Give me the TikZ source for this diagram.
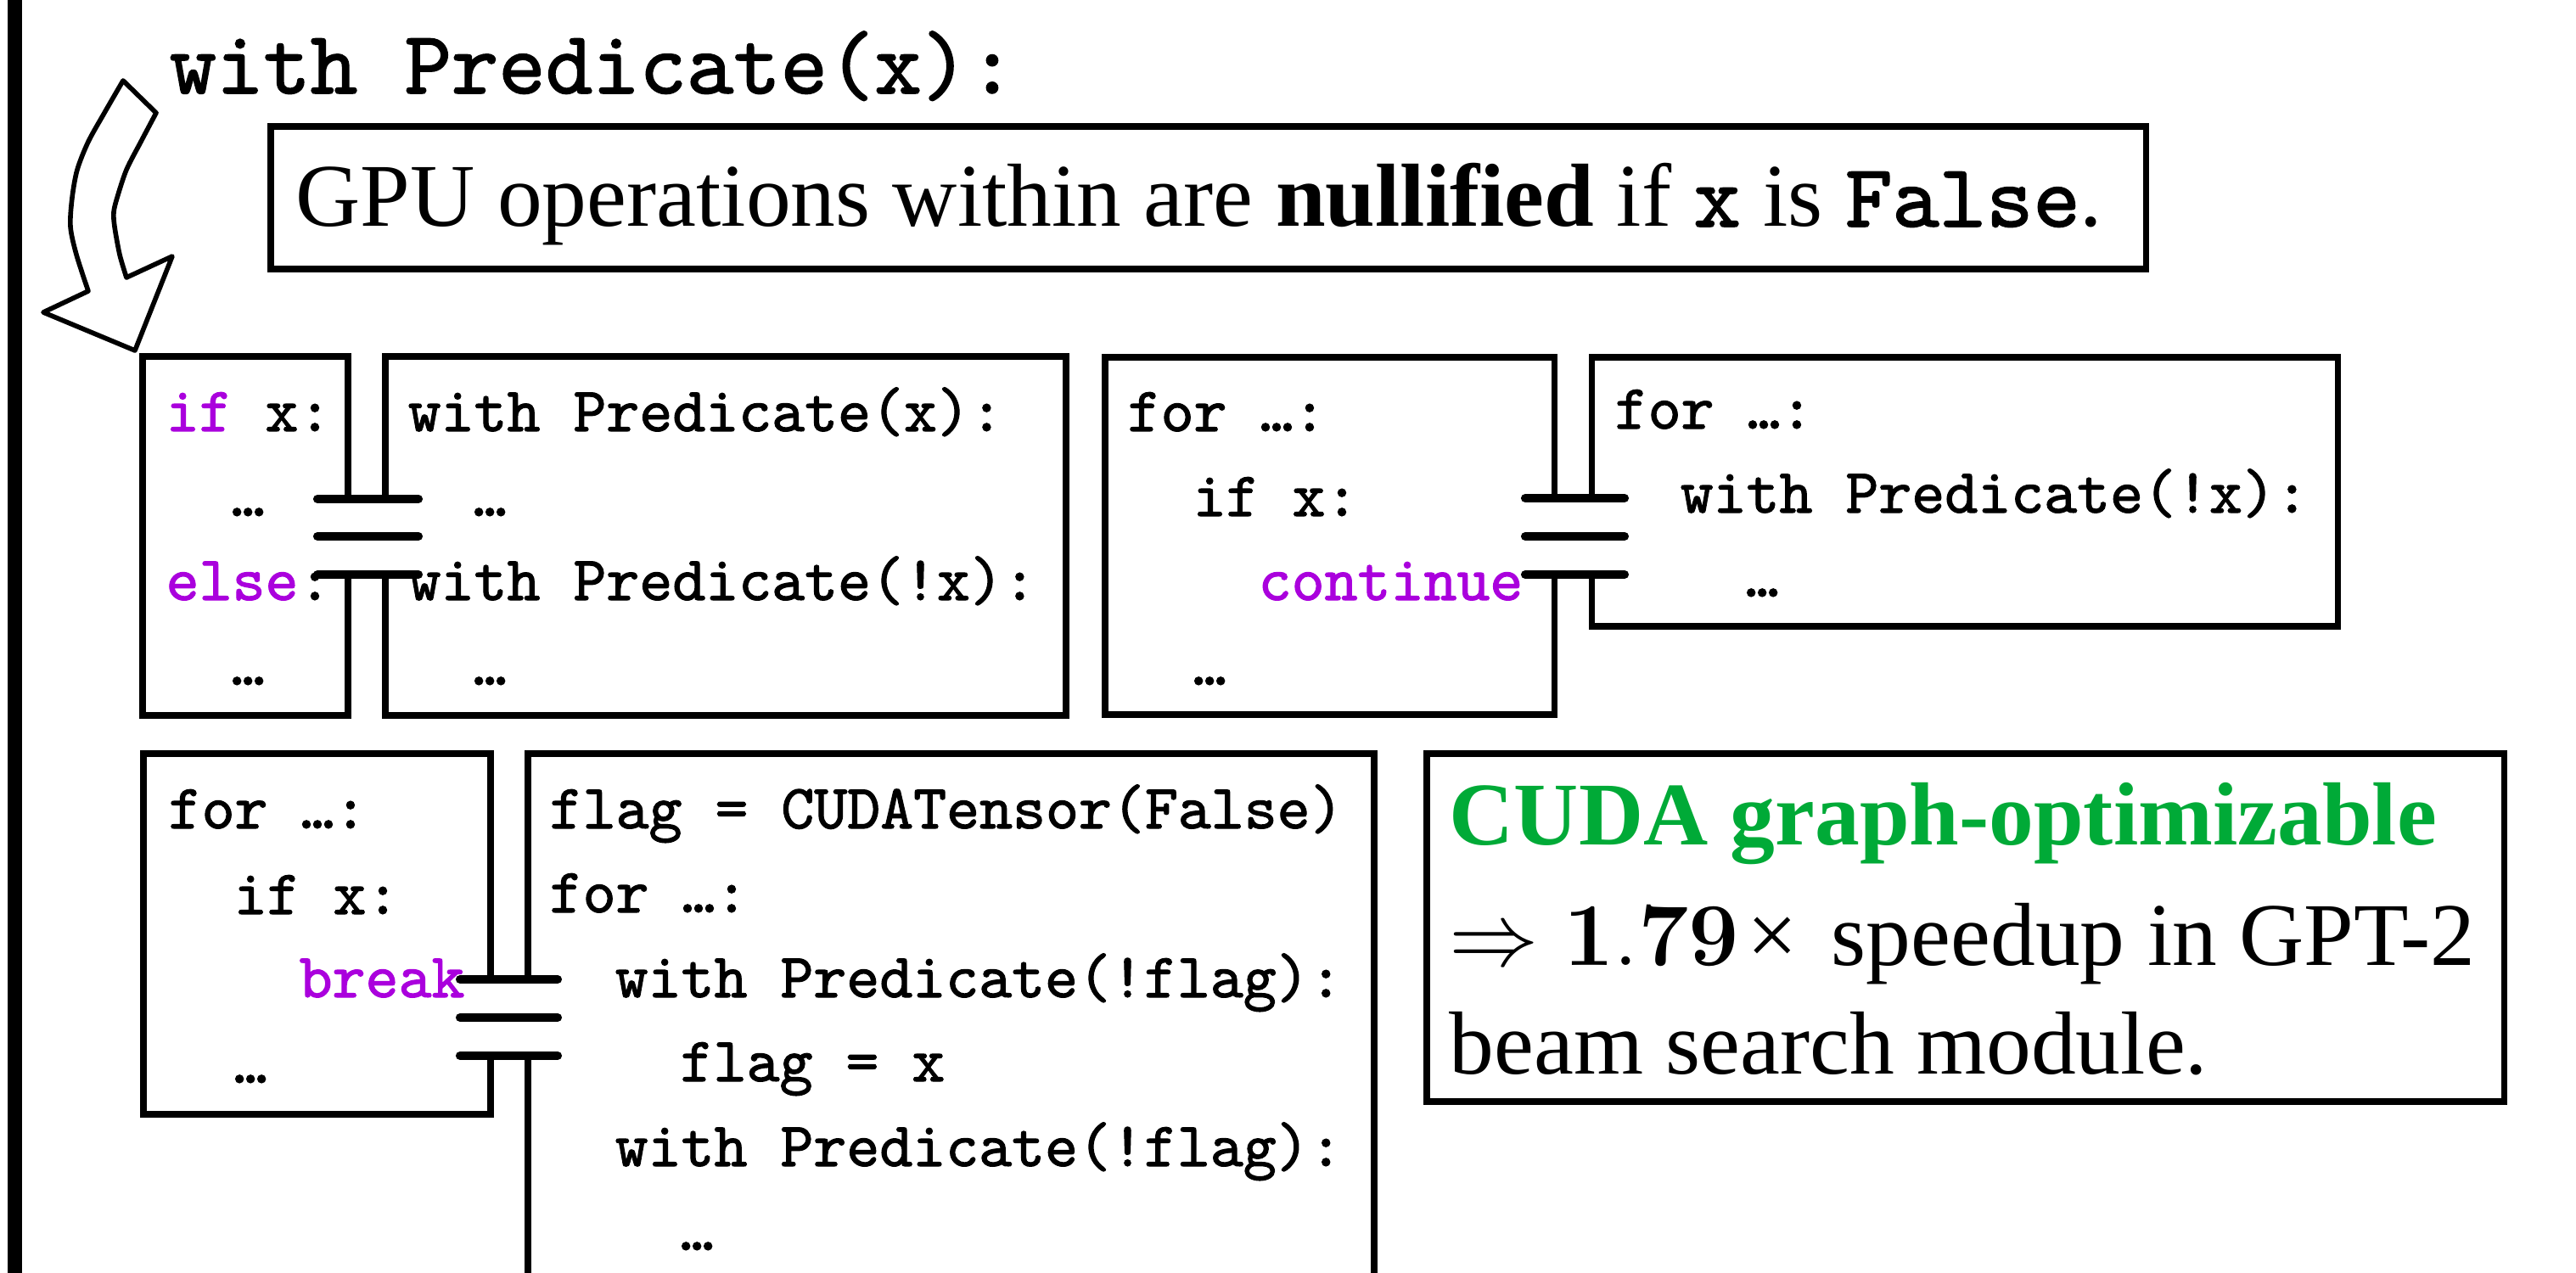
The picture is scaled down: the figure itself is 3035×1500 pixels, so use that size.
\RequirePackage{fix-cm}
\documentclass[tikz,border=0pt]{standalone}
\usepackage[no-math]{fontspec}
\setmainfont{Liberation Serif}
\newfontfamily\codefont{lmmono10-regular.otf}[FakeBold=1.5]
\definecolor{kwcol}{RGB}{170,0,221}
\definecolor{cudagreen}{RGB}{0,170,55}
\newcommand\kwd[1]{\textcolor{kwcol}{#1}}
\tikzset{
  boxline/.style={line width=2pt, line join=miter},
  plate/.style={line width=2.9pt, line cap=round},
  code/.style={anchor=base west, inner sep=0pt, font=\codefont\fontsize{21.1}{21.1}\selectfont},
  serif/.style={anchor=base west, inner sep=0pt, font=\fontsize{30}{30}\selectfont},
  bigarrow/.style={line width=1.6pt, line join=round, fill=white, draw=black},
}
\begin{document}
\begin{tikzpicture}[x=0.01cm, y=-0.01cm]
\useasboundingbox (0,0) rectangle (3035,1500);
\fill[white] (0,0) rectangle (3035,1500);
\begin{scope}
\clip (0,0) rectangle (3035,1500);
% left bar
\draw[line width=4.8pt] (17.5,-20) -- (17.5,1520);

% title
\node[anchor=base west, inner sep=0pt, font=\codefont\fontsize{30}{30}\selectfont] (title) at (199,110) {with Predicate(x):};

% curved hollow arrow
\draw[bigarrow] plot[smooth] coordinates {(145,95) (123,133) (104,167) (91,200) (85,233) (83,267) (90,300) (104,343)}
  -- (51,368) -- (159,413) -- (203,302)
  -- plot[smooth] coordinates {(149,327) (141,300) (135,267) (134,250) (138,233) (149,200) (166,167) (184,133)}
  -- cycle;

% GPU box
\draw[boxline] (319,149) rectangle (2528,317);
\node[serif] (gpu) at (348,267) {GPU operations within are \textbf{nullified} if {\codefont\fontsize{30}{30}\selectfont x} is {\codefont\fontsize{30}{30}\selectfont False}.};

% ---- Box A / B ----
\draw[boxline] (410,588) -- (410,420) -- (168,420) -- (168,843) -- (410,843) -- (410,677);
\draw[boxline] (454,588) -- (454,420) -- (1256,420) -- (1256,843) -- (454,843) -- (454,677);
\draw[plate] (374,588) -- (493,588);
\draw[plate] (374,632) -- (493,632);
\draw[plate] (374,677) -- (493,677);

\node[code] (a1) at (195,508) {\kwd{if} x:};
\node[code] (a2) at (272,608) {…};
\node[code] (a3) at (195,707) {\kwd{else}:};
\node[code] (a4) at (272,807) {…};

\node[code] (b1) at (480,508) {with Predicate(x):};
\node[code] (b2) at (557,608) {…};
\node[code] (b3) at (480,707) {with Predicate(!x):};
\node[code] (b4) at (557,807) {…};

% ---- Box C / D ----
\draw[boxline] (1831,587) -- (1831,421) -- (1302,421) -- (1302,842) -- (1831,842) -- (1831,677);
\draw[boxline] (1875,587) -- (1875,421) -- (2754,421) -- (2754,738) -- (1875,738) -- (1875,677);
\draw[plate] (1797,587) -- (1914,587);
\draw[plate] (1797,632) -- (1914,632);
\draw[plate] (1797,677) -- (1914,677);

\node[code] (c1) at (1328,508) {for …:};
\node[code] (c2) at (1405,608) {if x:};
\node[code] (c3) at (1482,707) {\kwd{continue}};
\node[code] (c4) at (1405,807) {…};

\node[code] (d1) at (1902,505) {for …:};
\node[code] (d2) at (1979,604) {with Predicate(!x):};
\node[code] (d3) at (2056,703) {…};

% ---- Box E / F ----
\draw[boxline] (578,1154) -- (578,888) -- (169,888) -- (169,1313) -- (578,1313) -- (578,1244);
\draw[boxline] (622,1154) -- (622,888) -- (1619,888) -- (1619,1530);
\draw[boxline] (622,1244) -- (622,1530);
\draw[plate] (542,1154) -- (657,1154);
\draw[plate] (542,1199) -- (657,1199);
\draw[plate] (542,1244) -- (657,1244);

\node[code] (e1) at (198,976) {for …:};
\node[code] (e2) at (275,1077) {if x:};
\node[code] (e3) at (352,1175) {\kwd{break}};
\node[code] (e4) at (275,1276) {…};

\node[code] (f1) at (647,976) {flag = CUDATensor(False)};
\node[code] (f2) at (647,1075) {for …:};
\node[code] (f3) at (724,1175) {with Predicate(!flag):};
\node[code] (f4) at (801,1274) {flag = x};
\node[code] (f5) at (724,1374) {with Predicate(!flag):};
\node[code] (f6) at (801,1473) {…};

% ---- Box G ----
\draw[boxline] (1681,888) rectangle (2950,1298);
\node[serif, text=cudagreen] (g1) at (1707,995) {\textbf{CUDA graph-optimizable}};
\node[serif] (g2) at (1707,1137) {$\Rightarrow\mathbf{1.79}$\kern2.5pt×\kern4pt\ speedup in GPT-2};
\node[serif] (g3) at (1707,1265) {beam search module.};
\end{scope}
\end{tikzpicture}
\end{document}
